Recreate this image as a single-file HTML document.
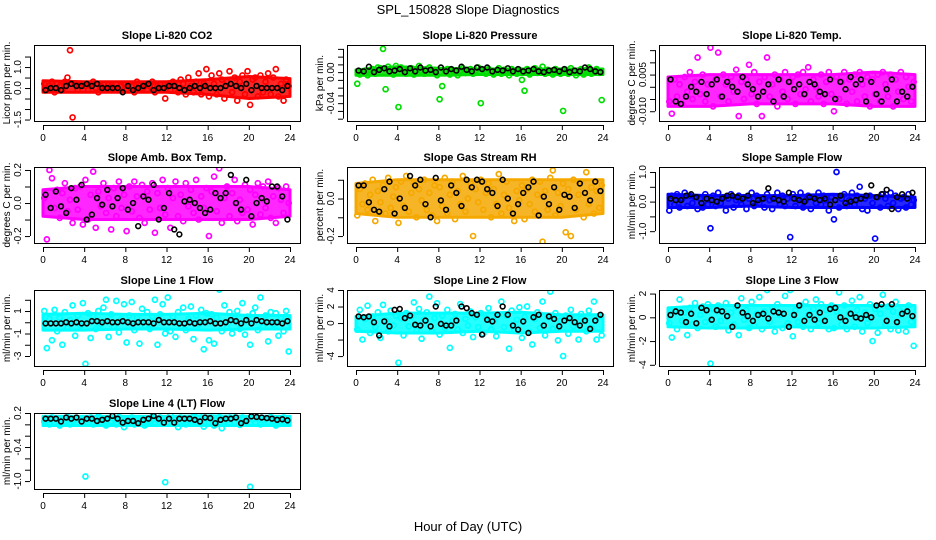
<!DOCTYPE html>
<html><head><meta charset="utf-8"><style>
html,body{margin:0;padding:0;background:#fff;}
svg{display:block;font-family:"Liberation Sans",sans-serif;}
</style></head><body>
<svg id="chart" width="936" height="540" viewBox="0 0 936 540" xmlns="http://www.w3.org/2000/svg">
<rect width="936" height="540" fill="#fff"/>
<text x="468" y="14" text-anchor="middle" font-size="13">SPL_150828  Slope Diagnostics</text>
<text x="468" y="531" text-anchor="middle" font-size="13">Hour of Day (UTC)</text>
</svg>
<script>
const xTicks=[0,4,8,12,16,20,24];
const titles=["Slope Li-820 CO2","Slope Li-820 Pressure","Slope Li-820 Temp.","Slope Amb. Box Temp.","Slope Gas Stream RH","Slope Sample Flow","Slope Line 1 Flow","Slope Line 2 Flow","Slope Line 3 Flow","Slope Line 4 (LT) Flow"];
const yTitles=["Licor ppm per min.","kPa per min.","degrees C per min.","degrees C per min.","percent per min.","ml/min per min.","ml/min per min.","ml/min per min.","ml/min per min.","ml/min per min."];
const yTickVals=[[-1.5,-1,-0.5,0,0.5,1,1.5],[0.03,0.02,0.01,0,-0.01,-0.02,-0.03,-0.04,-0.05,-0.06],[0.015,0.01,0.005,0,-0.005,-0.01],[0.2,0.1,0,-0.1,-0.2],[0.1,0,-0.1,-0.2],[1,0.5,0,-0.5,-1],[2,1,0,-1,-2,-3],[4,2,0,-2,-4],[2,0,-2,-4],[0.2,0,-0.2,-0.4,-0.6,-0.8,-1.0]];
const yTickLabels=[["-1.5","","","0.0","","1.0",""],["","","","0.00","","","","-0.04","",""],["","","0.005","","","-0.010"],["0.2","","0.0","","-0.2"],["","0.0","","-0.2"],["1.0","","0.0","","-1.0"],["","1","","-1","","-3"],["4","2","0","","-4"],["2","0","-2","-4"],["0.2","","","-0.4","","","-1.0"]];
const yLims=[[-1.57,2.05],[-0.063,0.035],[-0.014,0.0171],[-0.242,0.218],[-0.237,0.168],[-1.4,1.17],[-3.89,2.87],[-5.2,4.0],[-4.1,2.3],[-1.14,0.2]];
const colors=["#ff0000","#00dd00","#ff00ff","#ff00ff","#f5a800","#0000ff","#00ffff","#00ffff","#00ffff","#00ffff"];
const bandHours=[0,4,8,12,16,20,24];
const bandLo=[[-0.2,-0.2,-0.2,-0.2,-0.3,-0.5,-0.4],[-0.004,-0.004,-0.004,-0.003,-0.003,-0.003,-0.003],[-0.008,-0.008,-0.007,-0.007,-0.007,-0.008,-0.008],[-0.08,-0.1,-0.1,-0.1,-0.1,-0.1,-0.08],[-0.08,-0.1,-0.1,-0.1,-0.1,-0.1,-0.08],[-0.2,-0.2,-0.15,-0.2,-0.2,-0.2,-0.2],[-0.7,-0.7,-0.6,-0.6,-0.7,-0.6,-0.6],[-1,-1.2,-1.2,-1,-1.2,-1,-1],[-0.8,-0.9,-0.9,-0.8,-0.9,-0.9,-0.8],[-0.02,-0.02,-0.02,-0.02,-0.02,-0.02,-0.02]];
const bandHi=[[0.35,0.3,0.3,0.3,0.4,0.55,0.45],[0.003,0.007,0.005,0.004,0.004,0.004,0.004],[0.004,0.005,0.005,0.005,0.005,0.006,0.005],[0.08,0.1,0.1,0.1,0.1,0.1,0.08],[0.08,0.1,0.1,0.1,0.1,0.1,0.1],[0.25,0.2,0.2,0.2,0.25,0.2,0.15],[0.7,0.8,0.7,0.7,0.8,0.6,0.6],[0.8,1.2,1.2,1.2,1.3,1,1],[0.8,1,1,1,1,1,1],[0.14,0.14,0.14,0.14,0.15,0.14,0.14]];
const series0=[0.2,-0.1,0.1,0.3,-0.2,0.2,0.1,-0.1,0.3,0.5,1.8,-1.4,0.2,-0.1,0.1,0.2,0.1,-0.1,0.2,0.3,0,-0.2,0.1,0.2,-0.1,0.2,0.1,0,0.2,-0.1,0.1,0.2,-0.1,0.2,0.1,-0.2,0.3,0.1,0,0.2,-0.1,0.1,0.3,-0.2,0.1,0.2,0,-0.5,0.2,-0.1,0.3,0.1,-0.2,0.4,0.2,-0.3,0.5,0.1,-0.2,0.3,0.7,-0.3,0.2,0.9,-0.4,0.6,0.2,-0.3,0.7,0.4,-0.5,0.3,0.8,-0.2,0.5,-0.6,0.3,0.6,-0.3,0.8,-0.8,0.4,0.5,-0.4,0.6,-0.2,0.3,0.7,-0.3,0.5,0.9,-0.4,0.2,-0.6,0.4,0.1];
const black0=[-0.1,0,0,-0.1,0.1,0.2,0.1,0.1,0.2,0.1,0.2,0,0,0,0,-0.2,0.1,-0.1,0,0.1,0.2,-0.1,0,0,0.1,0.1,0,-0.1,0,0.1,0,0.1,0,0,0,0.1,0.2,0.1,0,0.2,-0.1,0.1,0,0,0,0,-0.1,0.1];
const series1=[-0.015,-0.003,0.001,0.002,-0.004,0.003,0.004,-0.002,0.006,0.005,0.03,-0.022,0.007,0.004,-0.003,0.008,-0.045,0.006,0.003,-0.002,0.004,0.005,-0.003,0.002,0.008,0.001,-0.002,0.004,0.006,-0.001,0.003,-0.004,-0.035,-0.018,0.002,0.004,-0.003,0.003,0.001,-0.004,0.002,0.005,-0.001,0.003,0.004,-0.002,0.002,0.006,-0.04,0.003,-0.002,0.004,0.002,-0.003,0.001,0.005,-0.002,0.003,0.002,-0.004,0.004,0.001,-0.002,0.003,-0.01,-0.024,0.004,-0.003,0.002,0.005,-0.001,0.003,0.007,-0.002,0.003,0.001,-0.003,0.004,0.002,-0.002,-0.05,0.003,-0.002,0.005,0.001,-0.004,0.002,0.004,-0.003,0.003,0.006,-0.002,0.002,0.004,-0.001,-0.036];
const black1=[0.002,0.001,0.007,0.000,0.003,0.005,0.001,0.002,0.004,0.000,0.005,0.001,0.006,0.002,0.003,0.000,0.006,0.001,0.004,0.002,0.007,0.003,0.001,0.006,0.004,0.006,0.001,0.003,0.002,0.005,0.001,0.004,0.001,0.002,0.004,0.001,0.000,0.002,0.003,0.001,0.004,0.000,0.002,0.001,0.006,0.004,0.001,0.000];
const series2=[-0.006,-0.011,0.003,-0.004,0.001,-0.007,0.004,-0.002,0.006,-0.005,0.002,0.012,-0.003,0.005,-0.006,0.001,0.016,-0.008,0.003,0.014,-0.004,0.005,0.001,-0.006,0.004,-0.002,0.007,-0.012,0.002,-0.005,0.003,0.009,-0.003,0.006,-0.007,0.002,-0.012,0.004,0.012,-0.004,0.001,0.005,-0.008,0.003,-0.002,0.006,-0.005,0.002,0.004,-0.007,0.005,-0.003,0.006,-0.001,0.008,-0.006,0.003,0.000,-0.004,0.005,-0.007,0.002,0.006,-0.003,-0.010,0.004,-0.005,0.002,0.006,-0.007,0.003,-0.002,0.005,-0.006,0.006,0.001,-0.004,0.004,-0.008,0.003,-0.003,0.005,-0.006,0.006,0.001,-0.004,0.005,-0.008,0.003,-0.002,0.006,-0.005,0.004,0.000,-0.006,0.002];
const black2=[0.003,-0.006,-0.007,-0.004,0.000,-0.002,0.002,-0.003,0.001,0.003,-0.004,0.002,0.000,-0.002,0.004,0.001,-0.001,-0.004,-0.002,0.001,-0.006,0.003,-0.004,0.002,-0.001,0.001,-0.003,0.002,0.001,-0.002,-0.003,0.003,-0.005,0.002,-0.001,0.004,0.001,0.003,-0.006,0.002,-0.003,-0.006,-0.001,0.003,-0.006,-0.002,-0.004,0.000];
const series3=[0.03,-0.22,0.2,0.15,-0.03,0.08,-0.09,0.06,0.12,-0.05,0.02,-0.12,0.09,-0.04,0.1,-0.13,0.14,-0.1,0.05,0.19,-0.15,0.07,-0.02,0.12,-0.06,0.03,-0.16,0.09,-0.08,0.13,-0.03,0.05,-0.17,0.1,-0.05,0.13,0.04,-0.09,0.11,-0.12,0.07,-0.04,0.12,-0.18,0.06,-0.03,0.14,-0.07,0.09,-0.15,0.03,0.13,-0.08,0.05,-0.11,0.12,-0.02,0.08,-0.06,0.14,-0.1,0.04,-0.03,0.09,-0.2,0.07,0.16,-0.05,0.21,-0.12,0.03,0.1,-0.08,0.06,0.14,-0.11,0.02,-0.06,0.11,-0.04,0.08,-0.13,0.05,0.12,-0.07,0.1,-0.03,0.13,-0.09,0.04,-0.12,0.09,0.02,-0.06,0.1,0.0];
const black3=[0.05,-0.03,0.07,-0.02,-0.06,0.09,0.02,0.11,-0.1,-0.07,0.03,-0.01,0.08,-0.02,0.03,0.09,-0.04,0.0,-0.14,0.04,0.02,0.11,-0.1,-0.03,0.06,-0.16,-0.19,0.01,0.02,0.0,-0.03,-0.06,-0.04,0.06,0.03,0.06,0.17,0.0,-0.04,0.14,-0.08,0.0,0.03,0.01,0.1,0.1,0.04,-0.1];
const series4=[-0.09,0.05,-0.03,0.08,-0.06,0.02,0.1,-0.12,0.04,-0.02,0.07,-0.08,0.11,-0.05,0.01,0.06,-0.13,0.09,-0.04,0.12,-0.07,0.03,0.08,-0.1,0.05,-0.01,0.1,-0.06,0.03,-0.09,0.07,-0.12,0.06,-0.04,0.11,-0.08,0.02,0.09,-0.11,0.04,-0.03,0.12,-0.07,0.0,0.08,-0.2,0.05,-0.02,0.1,-0.06,0.03,0.08,-0.1,0.05,-0.03,0.13,-0.08,0.02,0.09,-0.05,0.18,-0.12,0.04,-0.01,0.07,-0.11,0.05,-0.03,0.1,-0.07,0.02,0.09,-0.23,0.04,-0.06,0.11,0.15,-0.09,0.03,-0.04,0.08,-0.18,0.05,-0.2,0.1,-0.06,0.02,0.09,-0.1,0.14,-0.03,0.06,-0.08,0.04,-0.05,0.07];
const black4=[0.07,0.07,-0.02,-0.06,-0.07,0.05,0.09,-0.08,0.0,-0.05,0.12,0.07,0.1,-0.03,-0.1,0.11,-0.01,-0.06,0.07,0.03,-0.04,0.1,0.06,0.1,0.09,0.05,0.03,-0.04,0.1,0.0,-0.08,-0.03,0.03,0.06,0.09,-0.09,0.01,-0.03,0.06,-0.06,0.02,0.01,-0.05,0.08,0.03,-0.01,0.09,0.04];
const series5=[-0.3,0.2,-0.1,0.25,-0.2,0.1,0.3,-0.15,0.2,-0.05,0.15,-0.25,0.1,-0.2,0.25,-0.1,-0.9,0.2,-0.15,0.3,-0.05,0.15,-0.3,0.1,0.25,-0.2,0.05,0.2,-0.1,0.15,-0.25,0.1,0.3,-0.15,0.2,-0.05,0.1,-0.2,0.25,0.05,-0.25,0.15,0.3,-0.1,0.2,-0.15,0.1,-1.2,0.25,-0.15,0.1,0.3,-0.2,0.05,0.2,-0.25,0.15,-0.05,0.3,-0.1,0.2,0.05,-0.3,0.15,-0.6,1.0,-0.2,0.1,0.25,-0.15,0.05,0.3,-0.1,0.2,0.5,-0.25,0.1,-0.3,0.2,-0.05,-1.25,0.15,-0.2,0.25,0.1,-0.15,0.3,-0.05,0.2,-0.25,0.1,0.15,-0.2,0.25,-0.1,0.05];
const black5=[0.1,0.05,0.05,0.2,0.25,0.15,-0.05,0.1,0.05,0.0,0.1,0.2,0.2,0.15,0.1,0.2,-0.05,0.05,0.1,0.45,0.1,0.05,0.0,0.3,0.1,0.05,0.0,0.15,0.1,0.05,0.1,-0.1,0.05,0.2,-0.05,0.0,0.05,0.1,0.2,0.55,0.15,0.25,0.4,-0.25,0.15,0.25,0.1,0.3];
const series6=[1.0,-2.3,0.3,-1.6,1.1,-0.8,0.4,-2.0,0.9,-0.5,0.2,1.5,-1.2,0.6,-0.3,1.7,-3.7,0.8,-1.4,0.5,-0.6,1.0,-0.2,1.3,2.0,-1.3,0.7,-0.4,1.9,-0.9,0.3,1.6,-1.8,0.6,1.8,-0.7,0.4,-1.9,1.2,-0.3,0.9,-0.6,0.5,2.0,-2.0,0.7,1.6,-1.0,2.2,-0.8,0.5,-1.3,0.9,-0.4,1.3,-0.7,0.3,1.4,-1.5,0.6,-0.2,1.1,-2.4,0.8,-1.6,0.7,-1.9,0.4,2.9,-0.8,1.5,-0.5,0.9,-1.0,0.3,1.0,-0.6,1.7,-1.1,0.5,-2.0,0.8,1.3,-0.7,2.2,-0.4,0.6,-1.7,0.9,-0.2,0.8,-1.2,0.4,-0.8,1.0,-2.6];
const black6=[-0.1,-0.1,-0.1,-0.1,0,-0.1,0,-0.1,-0.1,0.1,0.1,0,0.1,0,0,0.1,0,-0.1,0,0,0,-0.1,0.2,0,0,0,-0.1,-0.1,0,-0.1,0,0,0.1,-0.1,-0.1,0,0.2,0.1,-0.1,0.2,-0.1,0.2,0.1,0,0,0,-0.1,0.1];
const series7=[-0.8,1.6,-2.0,0.5,2.1,-1.2,0.8,-0.5,1.3,-1.8,2.2,0.3,-1.0,1.5,-0.3,0.9,-4.8,0.6,-1.5,1.2,-0.4,0.8,2.5,-0.9,1.7,-1.9,0.4,1.3,3.2,-1.0,0.6,2.4,-1.4,0.9,-0.6,1.6,-3.0,0.3,1.1,-0.8,2.3,-1.2,0.5,-0.3,1.4,-1.7,0.7,-0.5,1.2,-1.3,0.6,1.8,-0.8,0.3,-1.6,1.0,2.6,-0.5,0.9,-3.1,1.5,-0.9,0.4,1.9,-1.8,0.7,2.0,-1.1,-2.6,0.5,1.3,-0.6,2.6,-1.5,0.8,3.8,-0.7,1.2,-2.1,0.3,-4.0,0.9,-1.3,1.6,-0.4,0.6,-2.0,1.1,0.2,-1.0,1.5,-0.6,2.6,-2.0,0.8,-1.5];
const black7=[0.8,0.7,0.8,0.1,-1.5,0.2,-0.4,1.6,1.7,0.6,0.9,-0.2,-0.3,0.3,-0.4,2.0,-0.1,-0.3,-0.3,0.3,2.0,1.8,1.2,1.0,-1.4,0.4,0.2,1.0,2.0,1.0,-0.3,-0.8,0.2,-1.2,0.7,1.0,-0.3,0.8,0.5,-0.4,0.3,0.6,0.1,-0.3,0.3,-0.7,0.3,1.0];
const series8=[-0.5,-1.7,0.6,-1.0,1.5,-0.3,0.4,-1.5,0.8,-0.6,1.2,-0.9,0.2,0.9,-0.4,1.1,-3.9,0.7,-0.8,1.0,-0.3,0.5,1.2,-1.1,0.4,-0.6,0.9,-1.5,1.6,-0.2,0.6,-0.9,1.3,-0.7,0.3,1.7,-1.0,0.5,2.3,-0.4,0.8,-1.2,1.1,0.2,-0.9,1.8,-0.5,2.3,-1.6,0.6,-0.4,1.0,-0.8,1.3,0.2,-1.0,0.7,1.5,-0.5,1.1,-0.3,0.6,-1.0,1.0,-0.9,0.5,2.1,-0.6,1.0,-1.0,0.3,1.4,-0.8,0.6,1.7,-1.2,0.4,-0.5,1.1,-2.0,0.7,-1.3,0.3,1.9,-0.6,0.9,-1.0,0.5,1.3,-1.1,0.2,0.8,-1.2,1.0,-0.4,-2.4];
const black8=[0.2,0.5,0.4,-0.4,0.3,-0.5,0.8,0.6,-0.2,0.6,0.5,0.1,-0.8,1.0,0.4,0.1,-0.3,0.2,0.3,-0.1,0.5,0.4,0.3,-0.8,0.2,1.0,-0.3,0.2,-0.2,0.4,-0.3,0.7,0.8,0.0,-0.3,0.3,0.0,-0.1,0.2,0.0,1.0,1.1,-0.3,1.1,-0.4,0.3,0.5,0.1];
const series9=[0.05,0.1,0.0,0.12,0.03,0.08,-0.02,0.1,0.05,0.13,0.0,0.07,0.11,0.02,0.09,0.04,-0.92,0.08,0.12,0.0,0.06,0.14,0.03,0.09,-0.02,0.11,0.05,0.1,0.0,0.13,0.06,-0.05,0.09,0.03,0.12,0.0,0.07,0.11,0.04,-0.02,0.1,0.06,0.14,0.01,0.08,0.12,0.03,-1.02,0.1,0.17,0.02,0.09,-0.05,0.12,0.05,0.0,0.11,0.07,0.14,0.03,0.18,0.06,-0.04,0.1,0.04,0.12,-0.02,0.08,0.13,-0.07,0.06,0.11,0.01,0.17,0.04,0.09,-0.01,0.12,0.05,0.08,-1.1,0.09,0.03,0.12,0.0,0.07,0.11,0.04,0.13,0.06,-0.02,0.1,0.05,0.12,0.03,0.07];
const black9=[0.1,0.1,0.1,0.05,0.12,0.1,0.12,0.05,0.1,0.1,0.06,0.08,0.1,0.15,0.1,0.03,0.06,0.06,0.02,0.08,0.1,0.15,0.1,0.03,0.1,0.03,0.1,0.1,0.1,0.08,0.05,0.12,0.11,0.02,0.08,0.1,0.1,0.12,0.02,0.06,0.14,0.13,0.12,0.11,0.1,0.08,0.09,0.07];
const colorSeries=[series0,series1,series2,series3,series4,series5,series6,series7,series8,series9];
const blackSeries=[black0,black1,black2,black3,black4,black5,black6,black7,black8,black9];

const NS="http://www.w3.org/2000/svg";
const svg=document.getElementById('chart');
const boxLefts=[34,347,659];
const boxTops=[45,167,290,413];
const boxH=76, boxW=266;
function mk(tag,attrs,parent){const e=document.createElementNS(NS,tag);for(const k in attrs)e.setAttribute(k,attrs[k]);(parent||svg).appendChild(e);return e;}

for(let p=0;p<10;p++){
  const bx=boxLefts[p%3], by=boxTops[Math.floor(p/3)];
  const g=mk('g',{});
  
  
  const xs=v=>bx+9+v/24*247;
  const [y0,y1]=yLims[p];
  const ys=v=>by+boxH-(v-y0)/(y1-y0)*boxH;
  const t=mk('text',{x:bx+boxW/2,y:by-6,'text-anchor':'middle','font-size':'11','font-weight':'bold'},g);
  t.textContent=titles[p];
  
  
  const clip=mk('clipPath',{id:'c'+p},g);
  mk('rect',{x:bx,y:by,width:boxW,height:boxH},clip);
  const pts=mk('g',{'clip-path':'url(#c'+p+')'},g);
  // dense core band
  const top=bandHours.map((h,i)=>xs(h)+','+ys(bandHi[p][i]));
  const bot=bandHours.map((h,i)=>xs(h)+','+ys(bandLo[p][i])).reverse();
  const band=mk('polygon',{points:top.concat(bot).join(' '),fill:colors[p],'fill-opacity':0.85,stroke:colors[p],'stroke-width':3,'stroke-linejoin':'round'},pts);
  
  
  const cs=colorSeries[p], n=cs.length;
  cs.forEach((v,i)=>{
    const c=mk('circle',{cx:xs((i+0.5)*24/n),cy:ys(v),r:2.5,fill:'none',stroke:colors[p],'stroke-width':1.7},pts);
    
    
  });
  const bs=blackSeries[p], m=bs.length;
  bs.forEach((v,i)=>{
    const c=mk('circle',{cx:xs((i+0.5)*24/m),cy:ys(v),r:2.4,fill:'none',stroke:'#000','stroke-width':1.6},pts);
    
    
  });
  const box=mk('rect',{x:bx+0.5,y:by+0.5,width:boxW,height:boxH,fill:'none',stroke:'#000','stroke-width':1},g);
  
  
  const xa=mk('g',{},g);
  
  
  const xb=by+boxH+4;
  mk('line',{x1:xs(0),x2:xs(24),y1:xb+0.5,y2:xb+0.5,stroke:'#000'},xa);
  xTicks.forEach(v=>{
    mk('line',{x1:xs(v)+0.5,x2:xs(v)+0.5,y1:xb,y2:xb+5,stroke:'#000'},xa);
    const l=mk('text',{x:xs(v),y:xb+16,'text-anchor':'middle','font-size':'10'},xa);
    l.textContent=v;
  });
  const ya=mk('g',{},g);
  
  
  const yb=bx-4;
  const tv=yTickVals[p];
  mk('line',{x1:yb+0.5,x2:yb+0.5,y1:ys(tv[0]),y2:ys(tv[tv.length-1]),stroke:'#000'},ya);
  tv.forEach((v,i)=>{
    const yy=ys(v);
    mk('line',{x1:yb-5,x2:yb,y1:yy+0.5,y2:yy+0.5,stroke:'#000'},ya);
    const lab=yTickLabels[p][i];
    if(lab){const l=mk('text',{x:yb-9,y:yy,'text-anchor':'middle','font-size':'10',transform:`rotate(-90 ${yb-9} ${yy})`},ya);l.textContent=lab;}
  });
  const yt=mk('text',{x:bx-24,y:by+boxH/2,'text-anchor':'middle','font-size':'10',transform:`rotate(-90 ${bx-24} ${by+boxH/2})`},g);
  yt.textContent=yTitles[p];
  
  
}
</script>
</body></html>
